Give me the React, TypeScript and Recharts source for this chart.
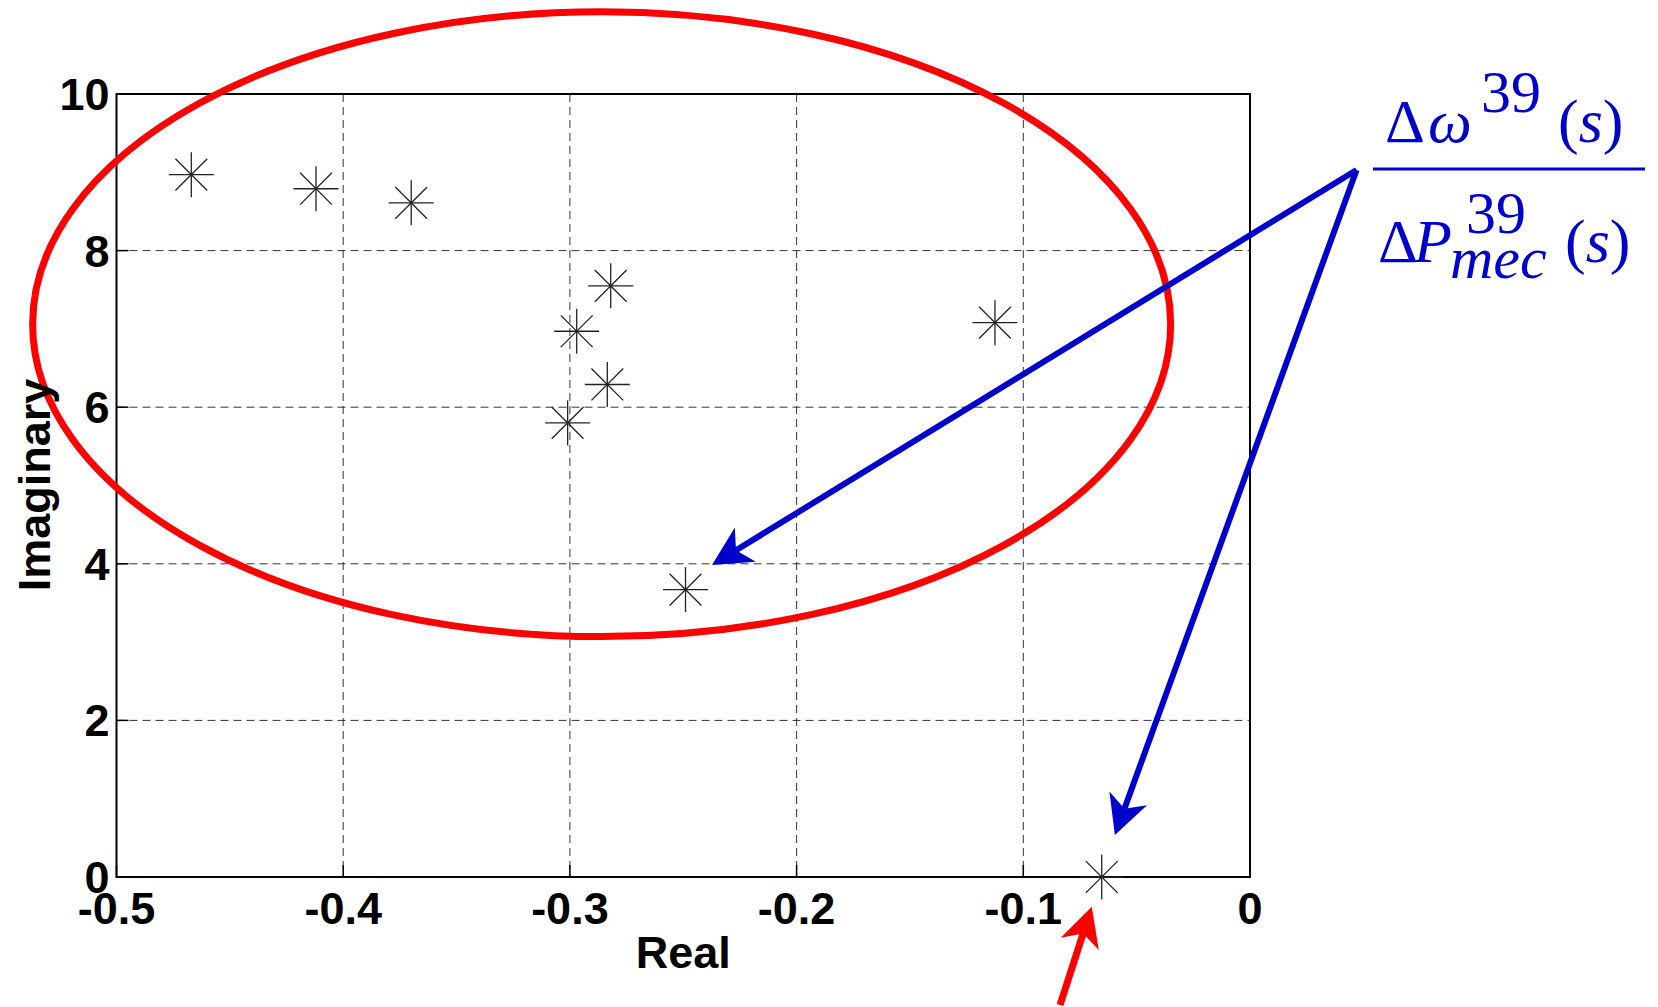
import React from "react";
import {
  ScatterChart,
  Scatter,
  XAxis,
  YAxis,
  CartesianGrid,
  ReferenceArea,
  ReferenceLine,
  Label,
} from "recharts";

// poles of the transfer function
const realParts = [-0.467, -0.412, -0.37, -0.282, -0.297, -0.2835, -0.301, -0.249, -0.1125, -0.0654];
const imagParts = [8.97, 8.79, 8.61, 7.55, 6.97, 6.29, 5.8, 3.67, 7.08, 0];
const xTicks = [-0.5, -0.4, -0.3, -0.2, -0.1, 0];
const yTicks = [0, 2, 4, 6, 8, 10];

// annotations, in data units
const ellipseX = [-0.537, -0.035];
const ellipseY = [3.07, 11.05];
const blueStart = [0.047, 9.03];
const blueTips = [
  [-0.2373, 3.985],
  [-0.0596, 0.536],
];
const redTail = [-0.0838, -1.635];
const redTip = [-0.0698, -0.379];

const poles = realParts.map((re, i) => ({ re, im: imagParts[i] }));

const axisFont = "'Liberation Sans', Arial, Helvetica, sans-serif";
const mathFont = "'Liberation Serif', 'Times New Roman', serif";
const blue = "#0000cc";

function Star(props: any) {
  const { cx, cy } = props;
  const r = 22.5;
  const d = r * Math.SQRT1_2;
  return (
    <g stroke="#222" strokeWidth={1.3}>
      <line x1={cx - r} y1={cy} x2={cx + r} y2={cy} />
      <line x1={cx} y1={cy - r} x2={cx} y2={cy + r} />
      <line x1={cx - d} y1={cy - d} x2={cx + d} y2={cy + d} />
      <line x1={cx - d} y1={cy + d} x2={cx + d} y2={cy - d} />
    </g>
  );
}

function makeArrow(color: string, width: number) {
  return (p: any) => {
    const { x1, y1, x2, y2 } = p;
    const len = Math.hypot(x2 - x1, y2 - y1) || 1;
    const ux = (x2 - x1) / len;
    const uy = (y2 - y1) / len;
    const L = 39;
    const hw = 20;
    const bx = x2 - ux * L;
    const by = y2 - uy * L;
    const nx = x2 - ux * L * 0.72;
    const ny = y2 - uy * L * 0.72;
    const head = `${x2},${y2} ${bx - uy * hw},${by + ux * hw} ${nx},${ny} ${bx + uy * hw},${by - ux * hw}`;
    return (
      <g>
        <line x1={x1} y1={y1} x2={nx} y2={ny} stroke={color} strokeWidth={width} />
        <polygon points={head} fill={color} />
      </g>
    );
  };
}

function EllipseShape(p: any) {
  const { x, y, width, height } = p;
  return (
    <ellipse
      cx={x + width / 2}
      cy={y + height / 2}
      rx={Math.abs(width) / 2}
      ry={Math.abs(height) / 2}
      fill="none"
      stroke="#ff0000"
      strokeWidth={7}
    />
  );
}

function YTitle() {
  return (
    <text
      x={50}
      y={485}
      transform="rotate(-90 50 485)"
      textAnchor="middle"
      fontFamily={axisFont}
      fontWeight={700}
      fontSize={45}
      fill="#000"
    >
      Imaginary
    </text>
  );
}

function Fraction() {
  const main = 62;
  const small = 60;
  return (
    <svg
      width={1658}
      height={1007}
      style={{ position: "absolute", left: 0, top: 0, pointerEvents: "none" }}
    >
      <g fill={blue} fontFamily={mathFont}>
        <text x={1385} y={142} fontSize={main}>Δ</text>
        <text x={1428} y={142} fontSize={main} fontStyle="italic">ω</text>
        <text x={1481} y={112} fontSize={small}>39</text>
        <text x={1558} y={142} fontSize={main}>
          (<tspan fontStyle="italic">s</tspan>)
        </text>
        <line x1={1373} y1={169} x2={1645} y2={169} stroke={blue} strokeWidth={3} />
        <text x={1378} y={262} fontSize={main}>Δ</text>
        <text x={1414} y={262} fontSize={main} fontStyle="italic">P</text>
        <text x={1466} y={233} fontSize={small}>39</text>
        <text x={1450} y={278} fontSize={small} fontStyle="italic">mec</text>
        <text x={1565} y={262} fontSize={main}>
          (<tspan fontStyle="italic">s</tspan>)
        </text>
      </g>
    </svg>
  );
}

export default function App() {
  const tickStyle = { fill: "#000", fontSize: 45, fontWeight: 700, fontFamily: axisFont };
  return (
    <div style={{ position: "absolute", left: 0, top: 0, width: 1658, height: 1007, background: "#fff" }}>
      <ScatterChart width={1658} height={1007} margin={{ top: 94, right: 408, bottom: 0, left: 0 }}>
        <CartesianGrid stroke="#333" strokeDasharray="8 5" strokeWidth={1} />
        <XAxis
          type="number"
          dataKey="re"
          domain={[-0.5, 0]}
          ticks={xTicks}
          height={130}
          axisLine={false}
          tickLine={{ stroke: "#000", strokeWidth: 1.5 }}
          tickSize={-12}
          tickMargin={27}
          tick={tickStyle}
          tickFormatter={(v: number) => (v === 0 ? "0" : v.toFixed(1))}
          interval={0}
        >
          <Label
            value="Real"
            position="insideBottom"
            offset={39}
            fill="#000"
            fontSize={45}
            fontWeight={700}
            fontFamily={axisFont}
          />
        </XAxis>
        <YAxis
          type="number"
          dataKey="im"
          domain={[0, 10]}
          ticks={yTicks}
          width={116.5}
          axisLine={false}
          tickLine={{ stroke: "#000", strokeWidth: 1.5 }}
          tickSize={-12}
          tickMargin={19}
          tick={tickStyle}
          interval={0}
        >
          <Label content={<YTitle />} />
        </YAxis>
        <ReferenceArea x1={-0.5} x2={0} y1={0} y2={10} fill="none" stroke="#000" strokeWidth={2} ifOverflow="visible" />
        <Scatter data={poles} shape={<Star />} isAnimationActive={false} />
        <ReferenceArea
          x1={ellipseX[0]}
          x2={ellipseX[1]}
          y1={ellipseY[0]}
          y2={ellipseY[1]}
          ifOverflow="visible"
          shape={EllipseShape}
        />
        {blueTips.map((tip, i) => (
          <ReferenceLine
            key={i}
            segment={[
              { x: blueStart[0], y: blueStart[1] },
              { x: tip[0], y: tip[1] },
            ]}
            ifOverflow="visible"
            shape={makeArrow(blue, 6)}
          />
        ))}
        <ReferenceLine
          segment={[
            { x: redTail[0], y: redTail[1] },
            { x: redTip[0], y: redTip[1] },
          ]}
          ifOverflow="visible"
          shape={makeArrow("#ff0000", 7)}
        />
      </ScatterChart>
      <Fraction />
    </div>
  );
}
